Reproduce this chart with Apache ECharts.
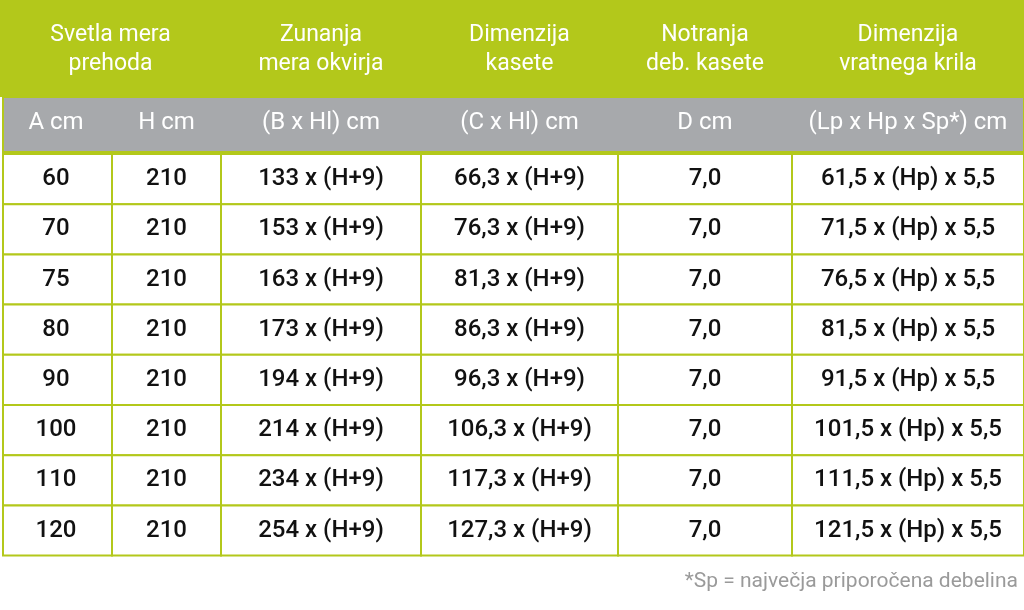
<!DOCTYPE html>
<html><head><meta charset="utf-8">
<script src="https://cdn.jsdelivr.net/npm/echarts@6/dist/echarts.min.js"></script>
<style>html,body{margin:0;padding:0;background:#fff}#c{width:1024px;height:610px}</style>
</head><body><div id="c"></div>
<script>
var headers = ['Svetla mera\nprehoda', 'Zunanja\nmera okvirja', 'Dimenzija\nkasete', 'Notranja\ndeb. kasete', 'Dimenzija\nvratnega krila'];
var units = ['A cm', 'H cm', '(B x Hl) cm', '(C x Hl) cm', 'D cm', '(Lp x Hp x Sp*) cm'];
var widths = [60, 70, 75, 80, 90, 100, 110, 120];
var heights = ['210', '210', '210', '210', '210', '210', '210', '210'];
var frame = ['133', '153', '163', '173', '194', '214', '234', '254'];
var cassette = ['66,3', '76,3', '81,3', '86,3', '96,3', '106,3', '117,3', '127,3'];
var depth = ['7,0', '7,0', '7,0', '7,0', '7,0', '7,0', '7,0', '7,0'];
var leaf = ['61,5', '71,5', '76,5', '81,5', '91,5', '101,5', '111,5', '121,5'];
var note = '*Sp = največja priporočena debelina';

// layout (pixels in the value axes)
var colX = [0, 112, 221, 421, 618, 792, 1024];
var headSpan = [[0, 221], [221, 421], [421, 618], [618, 792], [792, 1024]];
var rowTop = 154, rowH = 50.2;
var GREEN = '#b3c81b', GRAY = '#a7a9ac';

var cells = [], cellText = [];
for (var i = 0; i < widths.length; i++) {
  var vals = [String(widths[i]), heights[i], frame[i] + ' x (H+9)', cassette[i] + ' x (H+9)', depth[i], leaf[i] + ' x (Hp) x 5,5'];
  for (var j = 0; j < 6; j++) { cells.push([j, i]); cellText.push(vals[j]); }
}

function rr(api, x0, y0, x1, y1, fill, stroke) {
  var a = api.coord([x0, y0]), b = api.coord([x1, y1]);
  return {type: 'rect', shape: {x: a[0], y: a[1], width: b[0] - a[0], height: b[1] - a[1]},
    style: {fill: fill, stroke: stroke || null, lineWidth: 2}};
}
var font = 'Roboto, "DejaVu Sans", sans-serif';

var option = {
  animation: false,
  grid: {left: 0, right: 0, top: 0, bottom: 0},
  xAxis: {type: 'value', min: 0, max: 1024, show: false},
  yAxis: {type: 'value', min: 0, max: 610, inverse: true, show: false},
  series: [
    {
      type: 'custom', data: headers.map(function (h, k) { return [k]; }),
      renderItem: function (p, api) {
        var k = api.value(0), s = headSpan[k];
        var c = api.coord([(s[0] + s[1]) / 2, 50]);
        var children = [];
        if (k === 0) children.push(rr(api, 0, 0, 1024, 97, GREEN));
        children.push({type: 'text', style: {text: headers[k], x: c[0], y: c[1], align: 'center', verticalAlign: 'middle',
          fill: '#fff', font: '23px ' + font, lineHeight: 29}});
        return {type: 'group', children: children};
      }
    },
    {
      type: 'custom', data: units.map(function (u, k) { return [k]; }),
      renderItem: function (p, api) {
        var k = api.value(0);
        var c = api.coord([(colX[k] + colX[k + 1]) / 2, 123]);
        var children = [];
        if (k === 0) children.push(rr(api, 3, 97, 1024, 152, GRAY, GREEN));
        children.push({type: 'text', style: {text: units[k], x: c[0], y: c[1], align: 'center', verticalAlign: 'middle',
          fill: '#fff', font: '24px ' + font}});
        return {type: 'group', children: children};
      }
    },
    {
      type: 'custom', data: cells,
      renderItem: function (p, api) {
        var j = api.value(0), i = api.value(1);
        var y0 = rowTop + i * rowH;
        var c = api.coord([(colX[j] + colX[j + 1]) / 2, y0 + rowH / 2]);
        return {type: 'group', children: [
          rr(api, colX[j] + (j === 0 ? 3 : 0), y0, colX[j + 1], y0 + rowH, '#fff', GREEN),
          {type: 'text', z2: 10, style: {text: cellText[p.dataIndex], x: c[0], y: c[1], align: 'center', verticalAlign: 'middle',
            fill: '#111', font: '500 24px ' + font}}
        ]};
      }
    },
    {
      type: 'custom', data: [[0]],
      renderItem: function (p, api) {
        var c = api.coord([1018, 582]);
        return {type: 'text', style: {text: note, x: c[0], y: c[1], align: 'right', verticalAlign: 'middle',
          fill: '#9a9a9a', font: '21px ' + font}};
      }
    }
  ]
};
echarts.init(document.getElementById('c')).setOption(option);
</script></body></html>
